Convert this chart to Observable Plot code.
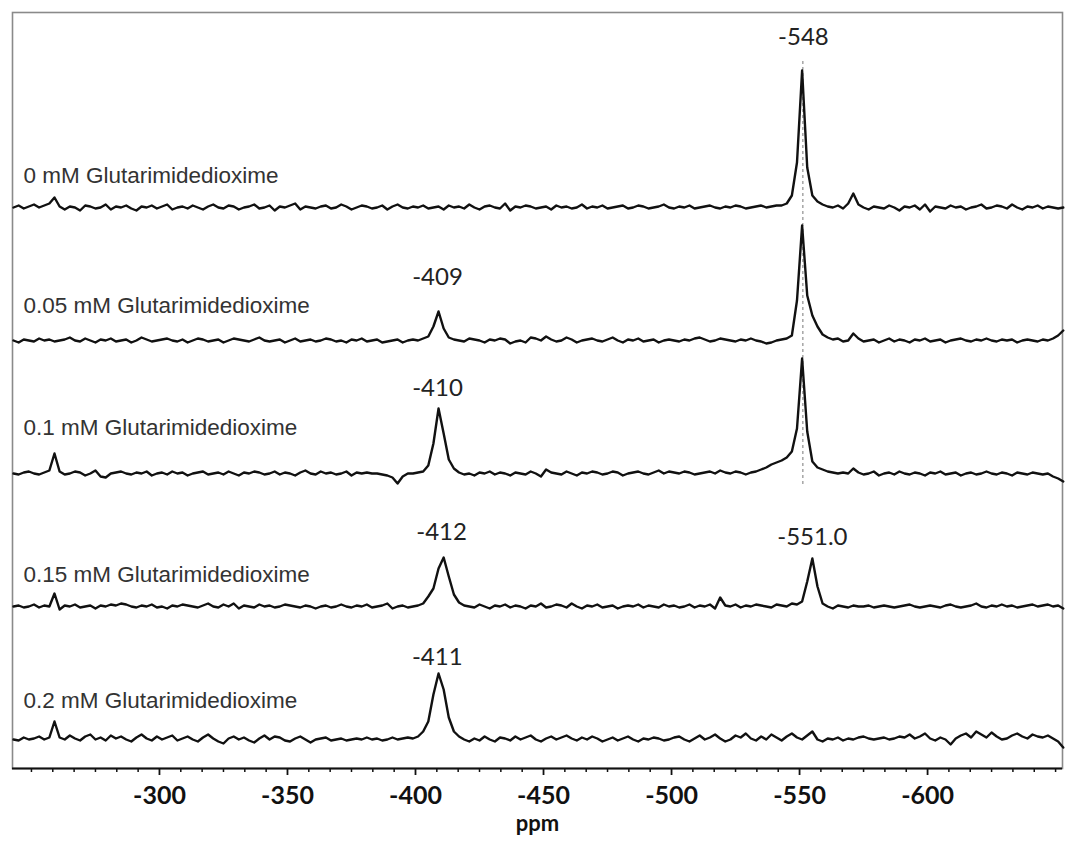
<!DOCTYPE html>
<html><head><meta charset="utf-8">
<script src="https://cdn.jsdelivr.net/npm/d3@7"></script>
<script src="https://cdn.jsdelivr.net/npm/@observablehq/plot@0.6"></script>
<style>html,body{margin:0;padding:0;background:#fff}#chart svg{display:block}</style>
</head><body><div id="chart"></div>
<script>
// Spectrum sampling grid (ppm), read along the x axis
const ppmStart = -243, ppmStep = -2, nPoints = 206;
const ppm = d3.range(nPoints).map(i => ppmStart + i * ppmStep);

const seriesNames = [
  "0 mM Glutarimidedioxime",
  "0.05 mM Glutarimidedioxime",
  "0.1 mM Glutarimidedioxime",
  "0.15 mM Glutarimidedioxime",
  "0.2 mM Glutarimidedioxime"
];

// intensities (arbitrary units), one value per grid point
const s0 = [
  0,2,-1,1,3,0,2,4,10,1, -2,1,0,-3,2,1,-1,0,3,-2, 1,0,2,-1,-3,1,0,2,-1,1, 3,-2,0,1,-1,2,0,-2,1,3,
  0,-1,2,1,-2,0,1,3,-1,0, 2,-3,1,0,2,4,-2,1,0,-1, 1,2,-1,0,3,1,-2,0,2,1, -1,0,2,-2,1,3,0,-1,1,0,
  2,-1,0,1,-2,2,0,1,-1,3, 0,-2,1,2,0,-1,4,-3,1,0, 2,1,-1,0,1,-2,2,0,1,-1, 0,3,-1,1,0,2,-1,0,1,2,
  -1,0,2,1,-1,0,1,3,0,-1, 1,0,2,-1,0,1,2,0,-1,1, 0,2,1,-1,0,1,2,0,1,2, 2,4,12,45,137,40,12,6,3,1,
  0,2,-1,4,14,3,0,-2,1,0, -1,2,0,-3,1,0,2,-2,3,-4, 1,0,-1,2,0,1,-2,0,1,3, -1,0,2,1,-1,3,0,-2,1,0,
  2,-1,1,0,-1,0
];
const s1 = [
  0,-2,1,0,-1,2,0,1,-1,0, 1,3,0,-1,2,0,-2,1,0,2, -1,0,1,-2,0,3,1,-1,0,1, 2,0,-1,1,-2,0,2,1,-1,0,
  1,-2,0,2,1,0,-1,1,3,0, -1,0,1,-2,0,2,-1,0,1,-1, 0,2,1,-1,0,-2,1,0,2,-1, 0,1,-2,-1,0,1,-2,0,1,0,
  2,4,14,29,12,3,1,0,-1,2, 1,0,-2,1,0,2,1,-3,-1,0, -2,3,2,0,4,1,-1,0,3,1, -2,0,1,2,0,-1,1,3,0,-2,
  1,0,2,-1,0,1,-2,0,1,0, -1,1,0,2,3,1,-1,0,2,1, 0,-1,1,0,2,0,-1,-3,-2,0, 1,2,5,40,115,45,25,14,6,3,
  1,2,-1,0,7,2,-1,0,1,-2, 0,2,-1,1,0,-2,1,0,2,-1, 0,1,-2,0,1,2,0,-1,1,0, 2,0,-1,1,0,1,-2,0,1,0,
  -1,1,0,2,5,10
];
const s2 = [
  0,-1,1,2,0,-1,1,3,20,2, -1,0,2,1,-2,0,3,-3,-4,0, 1,2,0,-1,1,0,2,-2,0,1, -1,2,0,1,-2,0,1,2,-1,0,
  1,-1,2,0,-2,1,0,2,1,-1, 0,2,-1,1,0,-2,1,3,0,-1, 2,0,1,-1,0,2,-2,1,0,1, 0,0,-1,-2,-4,-10,-3,0,0,1,
  2,8,30,65,40,14,5,1,-1,0, -2,1,0,2,-1,1,0,-2,1,0, -1,2,0,-3,4,1,0,-1,2,0, -2,1,0,2,1,-1,0,2,1,-2,
  0,1,2,0,-1,1,3,0,2,1, 0,2,1,-1,0,1,2,0,3,1, 0,2,1,-1,1,2,4,6,9,11, 13,16,22,45,115,42,12,6,4,2,
  1,0,1,0,5,1,-1,0,2,-2, 0,1,-1,2,0,-1,1,0,-2,1, 0,2,-1,0,1,-2,0,1,-1,0, 2,0,-1,1,0,-2,1,0,-1,1,
  0,-1,0,-3,-5,-8
];
const s3 = [
  0,1,-1,0,2,-1,1,0,13,-3, 1,0,2,-1,0,1,-2,1,0,2, 1,3,2,0,-1,1,0,2,-1,0, -2,1,0,2,1,0,-1,1,3,0,
  -1,2,0,3,-2,1,0,-1,2,0, 1,-1,0,2,1,0,-1,1,0,-2, 0,1,-1,0,2,0,-1,1,0,2, -1,0,1,3,-2,0,1,-1,0,1,
  3,10,18,38,49,30,12,4,1,0, -1,2,0,-2,1,0,2,-1,1,0, -2,1,0,3,-1,0,2,1,-1,3, 0,-2,1,0,2,-1,0,1,-2,0,
  1,0,2,-1,1,0,-1,2,0,1, -1,0,2,-1,1,0,2,-2,9,1, 0,2,-1,1,0,2,1,0,-1,2, 1,0,3,2,5,25,48,20,3,0,
  -2,1,0,-1,1,0,0,1,-1,0, 1,0,-1,0,1,2,0,-1,0,1, 0,-1,1,2,0,-1,0,1,3,0, -1,1,0,2,0,1,-1,0,1,2,
  0,1,2,0,1,-2
];
const s4 = [
  0,-1,2,0,1,3,0,2,18,2, 0,4,1,-1,3,5,0,2,-1,4, 1,3,0,-2,2,5,1,-1,3,0, 2,4,-1,1,3,0,-2,2,5,1,
  -2,-4,1,3,0,2,-1,-3,1,4, 0,3,2,-1,-2,1,3,0,-3,0, 1,2,-1,0,1,-1,0,1,0,2, 0,1,-1,0,2,0,1,2,1,3,
  8,18,45,66,50,22,8,3,0,-2, 1,-1,3,0,-2,2,1,-1,3,0, 2,4,0,-2,1,3,0,2,4,1, -1,2,0,3,1,-2,0,2,-1,1,
  3,0,-2,1,0,2,1,-1,0,2, 3,0,-2,1,4,0,2,5,1,-2, 0,4,2,6,1,-1,3,0,5,2, -1,3,6,2,0,4,8,0,-2,1,
  0,2,-1,1,0,2,3,1,0,1, 2,0,1,3,2,5,1,3,6,1, -1,2,0,-5,1,4,6,2,8,5, 2,7,3,0,1,4,6,3,1,5,
  3,2,4,1,-2,-8
];
const seriesValues = [s0, s1, s2, s3, s4];

// peak annotations
const annotSeries = [0, 1, 2, 3, 3, 4];
const annotText = ["-548", "-409", "-410", "-412", "-551.0", "-411"];
const annotPpm = [-551.5, -408.6, -408.6, -410.2, -555, -408.5];
const annotLevel = [170, 63, 85, 74, 69, 82];

// reference line at the -548 signal
const refPpm = -551.3;

// axis ticks
const majorTicks = [-300, -350, -400, -450, -500, -550, -600];
const minorTicks = d3.range(-250, -651, -50 / 6).filter(v => !majorTicks.some(m => Math.abs(m - v) < 0.01));

// ---- layout (not data) ----
const seriesGap = 133, bottomBase = 29;
const offsetOf = s => bottomBase + (seriesValues.length - 1 - s) * seriesGap;
const labelLift = [32, 35, 46, 32, 39];

const rows = seriesValues.flatMap((vals, s) => vals.map((v, i) => ({s, ppm: ppm[i], y: offsetOf(s) + v})));
const nameRows = seriesNames.map((name, s) => ({name, y: offsetOf(s) + labelLift[s]}));
const annotRows = annotText.map((t, k) => ({t, ppm: annotPpm[k], y: offsetOf(annotSeries[k]) + annotLevel[k]}));

const chart = Plot.plot({
  width: 1065,
  height: 844,
  marginLeft: 12,
  marginTop: 12,
  marginRight: 3,
  marginBottom: 76,
  style: {background: "#fff", color: "#111", fontFamily: "Lato, 'Open Sans', sans-serif"},
  x: {domain: [-242.6, -652.7], axis: null, label: null},
  y: {domain: [0, 756], axis: null, label: null},
  marks: [
    Plot.frame({stroke: "#8a8a8a", strokeWidth: 1.6}),
    Plot.ruleX([refPpm], {y1: offsetOf(2) - 11, y2: offsetOf(0) + 147, stroke: "#777", strokeWidth: 1, strokeDasharray: "3,3"}),
    Plot.line(rows, {x: "ppm", y: "y", z: "s", stroke: "#111", strokeWidth: 2.4, strokeLinejoin: "round"}),
    Plot.text(nameRows, {frameAnchor: "left", dx: 11, y: "y", text: "name", textAnchor: "start", fontFamily: "'Liberation Sans', Arial, sans-serif", fontSize: 22.5, fill: "#333"}),
    Plot.text(annotRows, {x: "ppm", y: "y", text: "t", fontFamily: "Lato, sans-serif", fontSize: 24, fill: "#222"}),
    Plot.ruleY([0], {stroke: "#111", strokeWidth: 2.2}),
    Plot.axisX(minorTicks, {tickSize: 4, tickFormat: () => "", stroke: "#111", strokeWidth: 1.5, label: null}),
    Plot.axisX(majorTicks, {tickSize: 7, tickPadding: 11, tickFormat: d => String(d), fontSize: 25, fontWeight: "bold", fill: "#111", stroke: "#111", strokeWidth: 1.8, label: null}),
    Plot.text(["ppm"], {frameAnchor: "bottom", dy: 62, text: d => d, fontSize: 22, fontWeight: "bold", fill: "#111"})
  ]
});
document.getElementById("chart").appendChild(chart);
</script>
</body></html>
